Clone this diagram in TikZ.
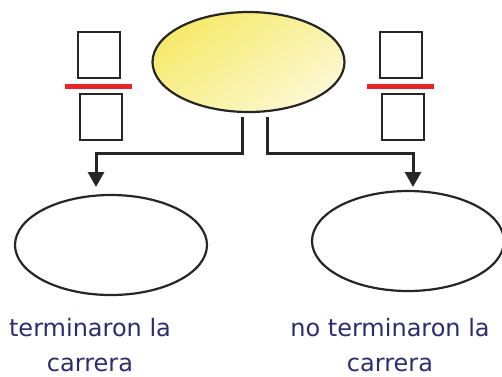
\documentclass[tikz,border=0pt]{standalone}
\usepackage{fontspec}
\setmainfont{DejaVu Sans}
\usepackage{xcolor}
\usetikzlibrary{arrows.meta, shapes.geometric, positioning}
\definecolor{ink}{HTML}{2B2D6E}
\definecolor{barred}{HTML}{E8232A}
\definecolor{yelA}{HTML}{F6E96A}
\definecolor{yelB}{HTML}{FCF8D2}
\tikzset{
  oval/.style={ellipse, draw=black!85, line width=2.2pt, minimum width=192pt, minimum height=100pt, inner sep=0pt},
  numbox/.style={rectangle, draw=black!85, line width=2.2pt, minimum width=42pt, minimum height=46pt, inner sep=0pt},
  fracbar/.style={draw=barred, line width=5.5pt},
  conn/.style={draw=black!85, line width=3pt, -{Triangle[width=16pt,length=15pt]}},
  lbl/.style={text=ink, align=center, inner sep=1pt, font=\fontsize{24}{35}\selectfont}
}
\begin{document}
\begin{tikzpicture}[x=1pt, y=-1pt]
\useasboundingbox (0,0) rectangle (502,376);
% main oval
\node[oval, top color=yelA, bottom color=yelB, shading angle=35] (top) at (248.5,62) {};
% fractions
\node[numbox] (lnum) at (99,55) {};
\node[numbox] (lden) at (101,117) {};
\draw[fracbar] (65,86.5) -- (132,86.5);
\node[numbox] (rnum) at (401,55) {};
\node[numbox] (rden) at (403,117) {};
\draw[fracbar] (367,86.5) -- (434,86.5);
% result ovals
\node[oval] (left) at (111,245) {};
\node[oval] (right) at (408,241) {};
% connectors
\coordinate (ls) at (242,117);
\coordinate (le) at (96,187);
\coordinate (rs) at (267,117);
\coordinate (re) at (413,187);
\draw[conn] (ls) -- ++(0,36) -| (le);
\draw[conn] (rs) -- ++(0,36) -| (re);
% labels
\node[lbl, anchor=base] (ltxt) at (90,371) {terminaron la\\carrera};
\node[lbl, anchor=base] (rtxt) at (390,371) {no terminaron la\\carrera};
\end{tikzpicture}
\end{document}
